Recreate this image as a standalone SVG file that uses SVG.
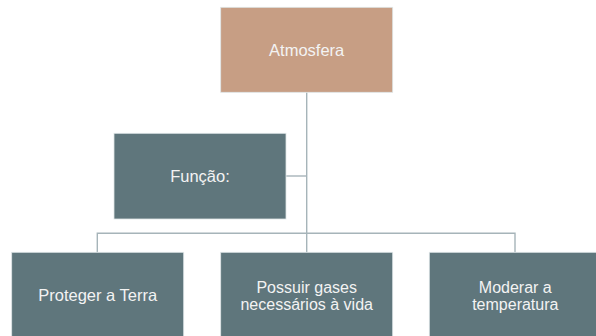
<svg xmlns="http://www.w3.org/2000/svg" width="596" height="336" viewBox="0 0 596 336">
<style>
.box{stroke:#dfe5e7;stroke-width:0.8}
.top{fill:#c79e84}
.teal{fill:#5f767c}
.lbl{font-family:"Liberation Sans",Arial,sans-serif;font-size:16.5px;fill:#f3f3f3;text-anchor:middle}
.two{font-size:16px}
.conn{stroke:#a6b4b9;stroke-width:1.4;fill:none}
</style>
<rect width="596" height="336" fill="#ffffff"/>
<g id="connectors">
<path class="conn" d="M306.7,92.3 V252.3"/>
<path class="conn" d="M286,176 H306.7"/>
<path class="conn" d="M97.3,252.3 V233.3 H515 V252.3"/>
</g>
<g id="atmosfera">
<rect class="box top" x="220.7" y="7.3" width="172" height="85"/>
<text class="lbl" x="306.7" y="55.5">Atmosfera</text>
</g>
<g id="funcao">
<rect class="box teal" x="114" y="133.3" width="172" height="85.7"/>
<text class="lbl" x="200" y="181.7">Função:</text>
</g>
<g id="proteger">
<rect class="box teal" x="11.7" y="252.3" width="172" height="85"/>
<text class="lbl" x="97.7" y="300.8">Proteger a Terra</text>
</g>
<g id="possuir">
<rect class="box teal" x="220.7" y="252.3" width="172" height="85"/>
<text class="lbl two" x="306.7" y="293.4">Possuir gases</text>
<text class="lbl two" x="306.7" y="309.5">necessários à vida</text>
</g>
<g id="moderar">
<rect class="box teal" x="429.3" y="252.3" width="172" height="85"/>
<text class="lbl two" x="515.3" y="293.4">Moderar a</text>
<text class="lbl two" x="515.3" y="309.5">temperatura</text>
</g>
</svg>
